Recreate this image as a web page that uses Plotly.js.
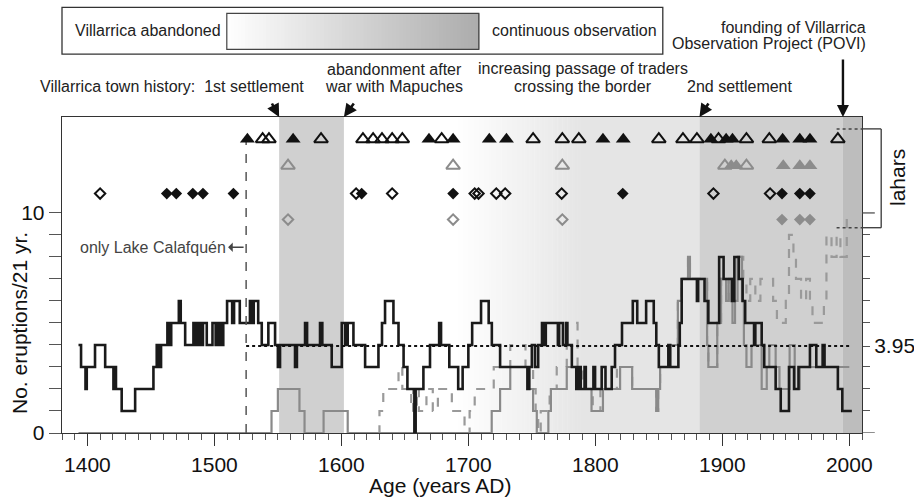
<!DOCTYPE html>
<html><head><meta charset="utf-8">
<script src="https://cdn.plot.ly/plotly-3.0.1.min.js"></script>
<style>html,body{margin:0;padding:0;background:#fff}#chart{width:914px;height:499px}</style>
</head><body><div id="chart"></div>
<script>
// ---- data ----
const blackYears=[1393,1395,1398.5,1399.5,1406,1414,1420.5,1421.5,1422.5,1427,1437.6,1452,1454.6,1456.5,1458,1463,1464.5,1466,1472,1473.5,1477,1483.5,1485,1487,1489,1491,1494,1498.5,1501,1503,1505,1507,1510,1514,1515.5,1520,1528,1530,1531,1534.5,1537.3,1542.5,1547.8,1550,1551.7,1563.5,1565,1571.4,1573,1583.2,1585,1592.4,1600.3,1603,1605,1609.5,1618.7,1629.2,1632,1634.4,1641,1645,1649,1652,1657.5,1658.5,1664.6,1669.8,1677,1678.5,1685,1692,1695.5,1700,1703,1710,1716,1718.5,1725,1746.5,1748,1750,1752.5,1755,1758,1760,1761,1770.5,1771.5,1774.5,1777,1778,1781.5,1785,1786.5,1788.5,1791.5,1792.5,1798.5,1799.8,1805,1808,1812.9,1815.5,1821,1829.5,1833,1840,1846,1848,1850,1857.5,1859,1865.4,1866.5,1868,1880,1881,1886,1889,1897.5,1901,1907.5,1909.5,1913,1916,1918,1925,1926,1931,1933,1942,1946,1952.5,1956.5,1960,1969,1974,1979,1980.5,1991,1994.5,2002];
const blackVals=[4,3,2,3,4,3,2,3,2,1,2,3,4,3,4,5,4,5,6,5,4,5,4,5,4,5,4,5,4,5,4,5,6,5,6,5,6,5,6,5,4,5,4,3,4,3,4,5,4,5,4,3,5,4,5,4,3,4,5,6,5,4,3,2,0,2,3,4,5,4,3,2,3,4,5,6,5,4,3,2,3,4,3,4,5,4,5,4,5,4,5,4,3,2,3,2,3,2,3,2,3,2,3,4,5,6,5,6,5,4,3,4,3,4,5,7,6,7,6,5,8,7,6,8,7,6,5,4,5,4,3,2,1,3,2,3,4,3,4,3,2,1,1];
const grayYears=[1393,1545,1550,1567,1571,1586,1605,1718.4,1725,1733,1747.3,1751,1753.9,1763,1765,1777.5,1786.7,1797,1806,1819.5,1829,1848,1849.5,1851,1858,1865,1868,1873,1874.5,1888,1889,1896,1899,1903,1905,1908,1910,1912,1915.5,1917,1919,1923,1931,1935,1937,1942,1945,1953,1957,1961,2000];
const grayVals=[0,1,2,1,0,1,0,1,2,3,2,1,0,1,2,3,2,1,2,3,2,1,2,3,4,6,7,8,7,4,3,5,7,6,7,5,6,8,6,4,3,4,2,3,4,3,2,4,2,3,3];
const dashYears=[1629,1630,1633,1645,1648,1655,1656.5,1658,1659.5,1661,1667,1672,1676,1687,1697,1701,1705,1720,1733,1745,1751,1753,1755,1757,1764,1769.6,1777.5,1786,1790,1798,1804,1817,1819.5,1829,1848,1849.5,1851,1858,1865,1868,1873,1874.5,1888,1889,1896,1899,1903,1905,1910,1912.5,1916.5,1919,1922,1926,1930,1940,1943,1950,1952.5,1956,1958,1962,1966,1969,1971,1980,1982,1986,1990,1993,1998,2000];
const dashVals=[0,1,2,3,2,1,2,1,2,1,2,1,2,1,0,1,2,3,4,3,2,1,0,1,2,3,5,3,2,1,2,3,3,2,1,2,3,4,6,7,8,7,4,3,5,7,6,7,7,8,7,6,7,6,7,6,5,6,9,8,7,6,7,6,5,6,9,8,9,8,10,10];

const triBlackFilled=[1526,1562,1669,1688,1716.5,1730,1806,1822,1891,1903,1908,1947.5,1961,1969];
const triBlackOpen=[1538,1543,1584,1617,1625,1632,1640,1648,1679,1751,1774,1787,1850,1869,1880,1897,1919,1937,1991];
const triGrayOpen=[1558,1688,1774,1902,1919];
const triGrayFilled=[1907,1911,1948,1961,1969];
const diaBlackFilled=[1462.5,1470,1483,1491,1515,1616,1688,1821.6,1947,1961,1969];
const diaBlackOpen=[1410,1611.6,1640,1705,1708,1722,1729,1773.5,1893,1937.6];
const diaGrayOpen=[1558,1688,1774];
const diaGrayFilled=[1947,1961,1969];

const meanLevel=3.95;
const meanSpan=[1525,2000];
const lakeLimit=1525;
const abandonBand=[1551,1602];
const gradSpan=[1690,1790];
const secondSettle=[1882,1995];
const poviSpan=[1995,2010];

// ---- rows ----
const rowTri=13.35, rowTriG=12.15, rowDia=10.88, rowDiaG=9.7;
const FONT='Liberation Sans, Arial, sans-serif';

const traces=[];
function rowArr(n,v){return new Array(n).fill(v);}
traces.push({x:dashYears,y:dashVals,mode:'lines',line:{shape:'hv',color:'#9a9a9a',width:2.2,dash:'dash'},hoverinfo:'skip'});
traces.push({x:grayYears,y:grayVals,mode:'lines',line:{shape:'hv',color:'#8a8a8a',width:2.2},hoverinfo:'skip'});
traces.push({x:blackYears,y:blackVals,mode:'lines',line:{shape:'hv',color:'#1a1a1a',width:2.6},hoverinfo:'skip'});
traces.push({x:meanSpan,y:[meanLevel,meanLevel],mode:'lines',line:{color:'#111',width:2,dash:'dot'},yaxis:'y2',hoverinfo:'skip'});
traces.push({x:[lakeLimit,lakeLimit],y:[0,13.75],mode:'lines',line:{color:'#555',width:1.5,dash:'dash'},hoverinfo:'skip'});
traces.push({x:triBlackFilled,y:rowArr(triBlackFilled.length,rowTri),mode:'markers',marker:{symbol:'triangle-up',size:13,color:'#111'}});
traces.push({x:triBlackOpen,y:rowArr(triBlackOpen.length,rowTri),mode:'markers',marker:{symbol:'triangle-up-open',size:12,color:'#111',line:{width:2,color:'#111'}}});
traces.push({x:triGrayFilled,y:rowArr(triGrayFilled.length,rowTriG),mode:'markers',marker:{symbol:'triangle-up',size:13,color:'#8c8c8c'}});
traces.push({x:triGrayOpen,y:rowArr(triGrayOpen.length,rowTriG),mode:'markers',marker:{symbol:'triangle-up-open',size:12,color:'#8c8c8c',line:{width:2,color:'#8c8c8c'}}});
traces.push({x:diaBlackFilled,y:rowArr(diaBlackFilled.length,rowDia),mode:'markers',marker:{symbol:'diamond',size:9,color:'#111'}});
traces.push({x:diaBlackOpen,y:rowArr(diaBlackOpen.length,rowDia),mode:'markers',marker:{symbol:'diamond-open',size:8,color:'#111',line:{width:2,color:'#111'}}});
traces.push({x:diaGrayFilled,y:rowArr(diaGrayFilled.length,rowDiaG),mode:'markers',marker:{symbol:'diamond',size:9,color:'#8c8c8c'}});
traces.push({x:diaGrayOpen,y:rowArr(diaGrayOpen.length,rowDiaG),mode:'markers',marker:{symbol:'diamond-open',size:8,color:'#8c8c8c',line:{width:2,color:'#8c8c8c'}}});

// ---- shapes ----
const shapes=[];
function grey(v){v=Math.round(v);return 'rgb('+v+','+v+','+v+')';}
shapes.push({type:'rect',xref:'x',yref:'paper',x0:abandonBand[0],x1:abandonBand[1],y0:0,y1:1,fillcolor:'#d0d0d0',line:{width:0},layer:'below'});
const nG=50;
for(let i=0;i<nG;i++){
  const a=gradSpan[0]+(gradSpan[1]-gradSpan[0])*i/nG, b=gradSpan[0]+(gradSpan[1]-gradSpan[0])*(i+1)/nG+0.3;
  shapes.push({type:'rect',xref:'x',yref:'paper',x0:a,x1:b,y0:0,y1:1,fillcolor:grey(255-(255-229)*(i+0.5)/nG),line:{width:0},layer:'below'});
}
shapes.push({type:'rect',xref:'x',yref:'paper',x0:gradSpan[1],x1:secondSettle[0],y0:0,y1:1,fillcolor:grey(229),line:{width:0},layer:'below'});
shapes.push({type:'rect',xref:'x',yref:'paper',x0:secondSettle[0],x1:secondSettle[1],y0:0,y1:1,fillcolor:'#d0d0d0',line:{width:0},layer:'below'});
shapes.push({type:'rect',xref:'x',yref:'paper',x0:poviSpan[0],x1:poviSpan[1],y0:0,y1:1,fillcolor:'#bdbdbd',line:{width:0},layer:'below'});
// top legend box
shapes.push({type:'rect',xref:'paper',yref:'paper',x0:0,x1:0.751,y0:1.199,y1:1.347,line:{color:'#333',width:1.3},fillcolor:'rgba(0,0,0,0)'});
const nL=70, lx0=0.206, lx1=0.521;
for(let i=0;i<nL;i++){
  shapes.push({type:'rect',xref:'paper',yref:'paper',x0:lx0+(lx1-lx0)*i/nL,x1:lx0+(lx1-lx0)*(i+1)/nL+0.001,y0:1.214,y1:1.328,fillcolor:grey(255-(255-172)*(i+0.5)/nL),line:{width:0}});
}
shapes.push({type:'rect',xref:'paper',yref:'paper',x0:lx0,x1:lx1,y0:1.214,y1:1.328,line:{color:'#444',width:1.2},fillcolor:'rgba(0,0,0,0)'});
// lahars bracket
shapes.push({type:'line',xref:'paper',yref:'y',x0:1.0,x1:1.024,y0:13.82,y1:13.82,line:{color:'#444',width:1.4}});
shapes.push({type:'line',xref:'paper',yref:'y',x0:1.0,x1:1.024,y0:9.33,y1:9.33,line:{color:'#444',width:1.4}});
shapes.push({type:'line',xref:'paper',yref:'y',x0:1.024,x1:1.024,y0:9.33,y1:13.82,line:{color:'#444',width:1.4}});
shapes.push({type:'line',xref:'x',yref:'y',x0:1990,x1:2010,y0:13.82,y1:13.82,line:{color:'#444',width:1.5,dash:'dot'}});
shapes.push({type:'line',xref:'x',yref:'y',x0:1990,x1:2010,y0:9.33,y1:9.33,line:{color:'#444',width:1.5,dash:'dot'}});
shapes.push({type:'line',xref:'paper',yref:'y',x0:1.0,x1:1.016,y0:10,y1:10,line:{color:'#444',width:1.2}});
shapes.push({type:'line',xref:'paper',yref:'y',x0:1.0,x1:1.016,y0:0,y1:0,line:{color:'#444',width:1.2}});

// ---- annotations ----
const tf={family:FONT,size:16,color:'#222'};
function txt(t,x,y,xa,extra){return Object.assign({text:t,xref:'paper',yref:'paper',x:x,y:y,xanchor:xa||'center',yanchor:'middle',showarrow:false,font:tf},extra||{});}
const ann=[
  txt('Villarrica abandoned',0.0134,1.273,'left'),
  txt('continuous observation',0.535,1.273,'left'),
  txt('Villarrica town history:\u00a0 1st settlement',0.137,1.095),
  txt('abandonment after',0.415,1.149),
  txt('war with Mapuches',0.415,1.095),
  txt('increasing passage of traders',0.651,1.152),
  txt('crossing the border',0.651,1.095),
  txt('2nd settlement',0.8475,1.095),
  txt('founding of Villarrica',1.0075,1.282,'right'),
  txt('Observation Project (POVI)',1.0075,1.234,'right'),
  txt('only Lake Calafquén',0.02,0.5886,'left',{font:{family:FONT,size:16,color:'#444'}}),
  {text:'Age (years AD)',xref:'paper',yref:'paper',x:0.4725,y:-0.165,xanchor:'center',yanchor:'middle',showarrow:false,font:{family:FONT,size:21,color:'#111'}},
  {text:'No. eruptions/21 yr.',xref:'paper',yref:'y',x:-0.0525,y:5,xanchor:'center',yanchor:'middle',textangle:-90,showarrow:false,font:{family:FONT,size:21,color:'#111'}},
  {text:'lahars',xref:'paper',yref:'paper',x:1.045,y:0.807,xanchor:'center',yanchor:'middle',textangle:-90,showarrow:false,font:{family:FONT,size:21,color:'#111'}},
  // arrows
  {text:'',xref:'x',yref:'paper',x:abandonBand[0],y:1.0,ax:-8,ay:-15,showarrow:true,arrowhead:2,arrowsize:1,arrowwidth:2.6,arrowcolor:'#111'},
  {text:'',xref:'x',yref:'paper',x:abandonBand[1],y:1.0,ax:11,ay:-15,showarrow:true,arrowhead:2,arrowsize:1,arrowwidth:2.6,arrowcolor:'#111'},
  {text:'',xref:'x',yref:'paper',x:secondSettle[0],y:1.0,ax:10,ay:-15,showarrow:true,arrowhead:2,arrowsize:1,arrowwidth:2.6,arrowcolor:'#111'},
  {text:'',xref:'x',yref:'paper',x:poviSpan[0],y:1.0,ax:0,ay:-59,showarrow:true,arrowhead:2,arrowsize:1,arrowwidth:2.4,arrowcolor:'#111'},
  {text:'',xref:'x',yref:'y',x:1510.8,y:8.44,ax:17,ay:0,showarrow:true,arrowhead:1,arrowsize:1.2,arrowwidth:1.3,arrowcolor:'#444'}
];

const yTicks=[0,1,2,3,4,5,6,7,8,9,10];
const yText=yTicks.map(v=>(v===0||v===10)?String(v):'');
const y2Ticks=[1,2,3,meanLevel,5,6,7,8,9];
const y2Text=y2Ticks.map(v=>v===meanLevel?'3.95':'');

const layout={
  width:914,height:499,
  margin:{l:62,r:52,t:117,b:66},
  paper_bgcolor:'#fff',plot_bgcolor:'#fff',
  showlegend:false,
  font:{family:FONT,size:16,color:'#111'},
  xaxis:{range:[1380,2010],showgrid:false,zeroline:false,showline:true,linecolor:'#333',linewidth:1.3,mirror:true,
    ticks:'outside',ticklen:12,tickwidth:1,tickcolor:'#333',tick0:1400,dtick:100,
    tickfont:{family:FONT,size:21,color:'#111'},
    minor:{ticks:'outside',ticklen:6,tickwidth:1,tickcolor:'#555',tick0:1380,dtick:10,showgrid:false}},
  yaxis:{range:[0,14.36],showgrid:false,zeroline:false,showline:true,linecolor:'#333',linewidth:1.3,mirror:true,
    tickmode:'array',tickvals:yTicks,ticktext:yText,ticks:'outside',ticklen:12,tickwidth:1,tickcolor:'#555',
    tickfont:{family:FONT,size:21,color:'#111'}},
  yaxis2:{range:[0,14.36],overlaying:'y',side:'right',showgrid:false,zeroline:false,showline:false,
    tickmode:'array',tickvals:y2Ticks,ticktext:y2Text,ticks:'outside',ticklen:7,tickwidth:1,tickcolor:'#555',
    tickfont:{family:FONT,size:21,color:'#111'}},
  shapes:shapes,
  annotations:ann
};
Plotly.newPlot('chart',traces,layout,{staticPlot:true,displayModeBar:false});
</script></body></html>
